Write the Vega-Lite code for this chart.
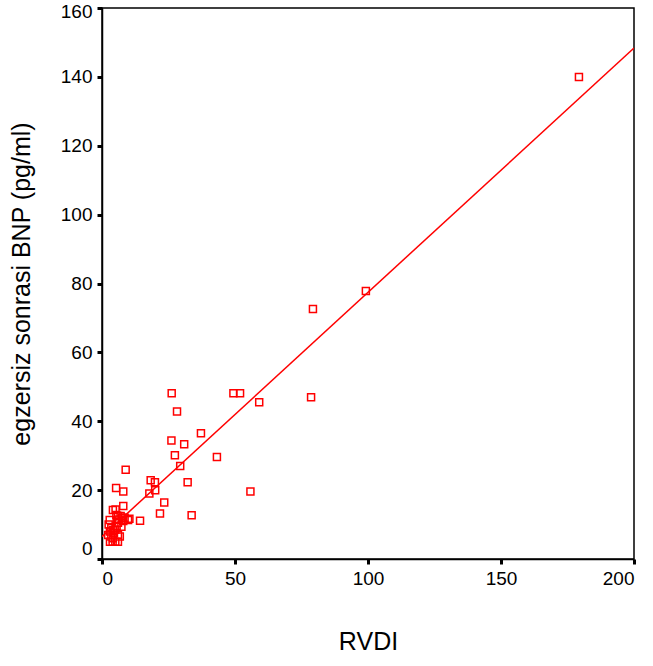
{
  "$schema": "https://vega.github.io/schema/vega-lite/v6.json",
  "width": 532,
  "height": 551,
  "autosize": {"type": "none"},
  "padding": {"left": 102, "top": 8, "right": 19, "bottom": 107},
  "background": "white",
  "config": {
    "view": {"stroke": "black", "strokeWidth": 1.5},
    "font": "Liberation Sans",
    "axis": {
      "grid": false,
      "domainColor": "black",
      "domainWidth": 1.5,
      "tickColor": "black",
      "tickWidth": 3,
      "tickSize": 5,
      "labelFont": "Liberation Sans",
      "labelFontSize": 19,
      "labelColor": "black",
      "titleFont": "Liberation Sans",
      "titleFontSize": 25,
      "titleFontWeight": "normal",
      "titleColor": "black"
    }
  },
  "data": {
    "values": [
      {"RVDI": 179.3, "BNP": 140.0},
      {"RVDI": 99.2, "BNP": 77.8},
      {"RVDI": 79.3, "BNP": 72.6},
      {"RVDI": 78.6, "BNP": 47.0},
      {"RVDI": 26.2, "BNP": 48.1},
      {"RVDI": 49.4, "BNP": 48.1},
      {"RVDI": 51.9, "BNP": 48.1},
      {"RVDI": 59.1, "BNP": 45.5},
      {"RVDI": 28.2, "BNP": 42.8},
      {"RVDI": 37.2, "BNP": 36.5},
      {"RVDI": 26.1, "BNP": 34.4},
      {"RVDI": 30.9, "BNP": 33.3},
      {"RVDI": 27.4, "BNP": 30.1},
      {"RVDI": 43.2, "BNP": 29.6},
      {"RVDI": 29.4, "BNP": 27.0},
      {"RVDI": 8.9, "BNP": 25.9},
      {"RVDI": 32.2, "BNP": 22.3},
      {"RVDI": 18.3, "BNP": 22.9},
      {"RVDI": 19.9, "BNP": 22.3},
      {"RVDI": 20.0, "BNP": 20.0},
      {"RVDI": 17.8, "BNP": 19.0},
      {"RVDI": 5.3, "BNP": 20.6},
      {"RVDI": 8.0, "BNP": 19.6},
      {"RVDI": 55.8, "BNP": 19.6},
      {"RVDI": 23.4, "BNP": 16.4},
      {"RVDI": 21.8, "BNP": 13.2},
      {"RVDI": 33.7, "BNP": 12.7},
      {"RVDI": 14.3, "BNP": 11.1},
      {"RVDI": 8.0, "BNP": 15.4},
      {"RVDI": 5.1, "BNP": 14.4},
      {"RVDI": 10.3, "BNP": 11.7},
      {"RVDI": 4.1, "BNP": 14.2},
      {"RVDI": 5.4, "BNP": 12.8},
      {"RVDI": 2.9, "BNP": 11.3},
      {"RVDI": 9.8, "BNP": 11.3},
      {"RVDI": 7.3, "BNP": 9.4},
      {"RVDI": 4.1, "BNP": 8.4},
      {"RVDI": 2.3, "BNP": 7.0},
      {"RVDI": 3.5, "BNP": 6.5},
      {"RVDI": 6.7, "BNP": 6.5},
      {"RVDI": 4.1, "BNP": 6.0},
      {"RVDI": 2.5, "BNP": 10.0},
      {"RVDI": 3.0, "BNP": 5.0},
      {"RVDI": 4.0, "BNP": 5.0},
      {"RVDI": 5.0, "BNP": 5.0},
      {"RVDI": 6.0, "BNP": 5.0},
      {"RVDI": 4.5, "BNP": 7.5},
      {"RVDI": 5.0, "BNP": 8.5},
      {"RVDI": 5.5, "BNP": 9.5},
      {"RVDI": 6.0, "BNP": 10.5},
      {"RVDI": 6.5, "BNP": 11.5},
      {"RVDI": 7.0, "BNP": 12.5},
      {"RVDI": 7.5, "BNP": 12.0},
      {"RVDI": 8.0, "BNP": 11.0},
      {"RVDI": 3.5, "BNP": 9.0},
      {"RVDI": 6.0, "BNP": 7.0},
      {"RVDI": 6.0, "BNP": 12.5},
      {"RVDI": 8.5, "BNP": 12.0},
      {"RVDI": 3.0, "BNP": 8.0}
    ]
  },
  "layer": [
    {
      "mark": {"type": "point", "shape": "square", "filled": false, "color": "#ff0000", "size": 49, "strokeWidth": 1.5, "opacity": 1},
      "encoding": {
        "x": {
          "field": "RVDI", "type": "quantitative",
          "scale": {"domain": [0, 200], "nice": false, "zero": true},
          "axis": {"values": [0, 50, 100, 150, 200], "title": "RVDI", "titlePadding": 41, "labelPadding": 5}
        },
        "y": {
          "field": "BNP", "type": "quantitative",
          "scale": {"domain": [0, 160], "nice": false},
          "axis": {
            "values": [0, 20, 40, 60, 80, 100, 120, 140, 160],
            "title": "egzersiz sonrasi BNP (pg/ml)",
            "titlePadding": 26,
            "labelPadding": 5,
            "labelOffset": {"condition": [{"test": "datum.value == 0", "value": -11}, {"test": "datum.value == 160", "value": 3}], "value": 0}
          }
        }
      }
    },
    {
      "transform": [{"regression": "BNP", "on": "RVDI", "extent": [0, 200]}],
      "mark": {"type": "line", "color": "#ff0000", "strokeWidth": 1.5, "clip": true},
      "encoding": {
        "x": {"field": "RVDI", "type": "quantitative"},
        "y": {"field": "BNP", "type": "quantitative"}
      }
    }
  ]
}
